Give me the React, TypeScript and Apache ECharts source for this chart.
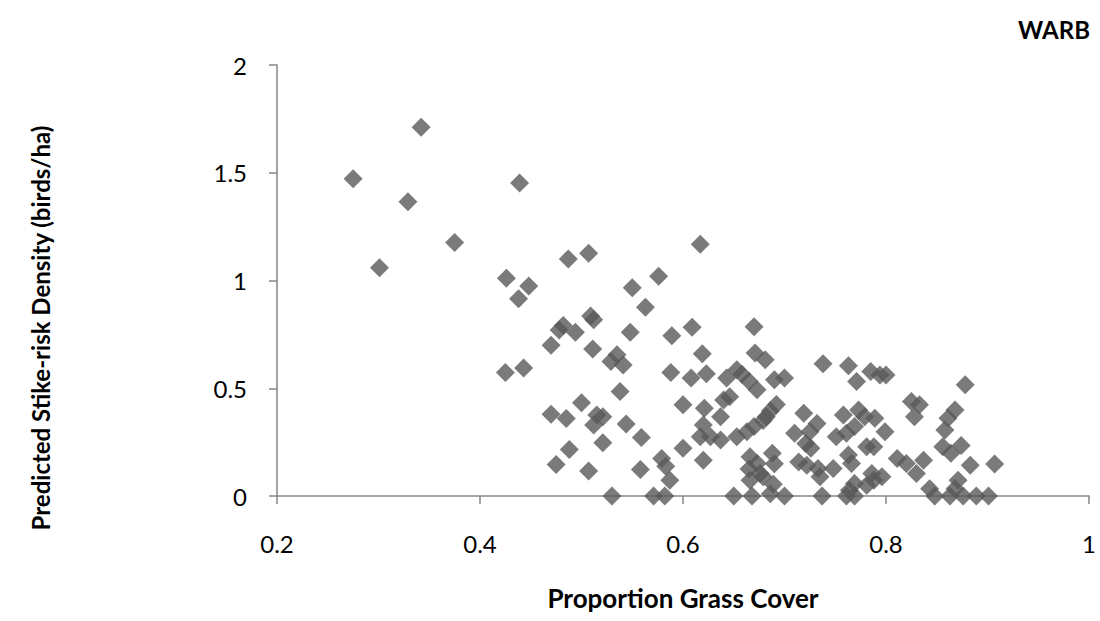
import React, { useEffect, useRef } from "react";
import * as echarts from "echarts";

const chartTitle = "WARB";
const xAxisName = "Proportion Grass Cover";
const yAxisName = "Predicted Stike-risk Density (birds/ha)";

const grassCover: number[] = [
  0.275, 0.301, 0.329, 0.342, 0.375, 0.426, 0.439, 0.448, 0.438, 0.487, 0.507, 0.425, 0.443,
  0.509, 0.512, 0.482, 0.494, 0.478, 0.47, 0.511, 0.47, 0.485, 0.5, 0.515, 0.521, 0.512, 0.521,
  0.488, 0.475, 0.507, 0.53,
  0.617, 0.576, 0.55, 0.563, 0.548, 0.589, 0.609, 0.67, 0.535, 0.529, 0.541, 0.619,
  0.671, 0.681, 0.588, 0.608, 0.623, 0.643, 0.653, 0.658, 0.665, 0.673, 0.69, 0.7,
  0.538, 0.544, 0.559, 0.579, 0.583, 0.558, 0.587, 0.571, 0.582, 0.65,
  0.6, 0.621, 0.64, 0.646, 0.637, 0.6, 0.62,
  0.686, 0.692, 0.62, 0.617, 0.627, 0.637, 0.653, 0.663, 0.67, 0.679, 0.682,
  0.666, 0.673, 0.665, 0.676, 0.688, 0.69, 0.666, 0.679, 0.689, 0.668, 0.686, 0.7,
  0.738, 0.763, 0.771, 0.785, 0.794, 0.8, 0.825, 0.719, 0.732, 0.725, 0.71, 0.721, 0.726,
  0.758, 0.773, 0.779, 0.789, 0.751, 0.761, 0.769, 0.799, 0.781, 0.788, 0.763, 0.766,
  0.714, 0.722, 0.733, 0.748, 0.735, 0.786, 0.788, 0.781, 0.769, 0.764, 0.811, 0.82,
  0.737, 0.761, 0.769,
  0.878, 0.833, 0.828, 0.868, 0.861, 0.858, 0.856, 0.864, 0.874, 0.837, 0.83, 0.883,
  0.907, 0.871, 0.843, 0.848, 0.863, 0.876, 0.889, 0.901, 0.868, 0.796,
];

const strikeDensity: number[] = [
  1.472, 1.059, 1.366, 1.711, 1.176, 1.011, 1.452, 0.974, 0.915, 1.1, 1.126, 0.573, 0.594,
  0.835, 0.818, 0.791, 0.76, 0.77, 0.699, 0.682, 0.379, 0.36, 0.433, 0.376, 0.368, 0.33, 0.247,
  0.216, 0.146, 0.116, 0.0,
  1.168, 1.02, 0.966, 0.876, 0.76, 0.744, 0.783, 0.785, 0.656, 0.624, 0.608, 0.66,
  0.663, 0.632, 0.573, 0.547, 0.567, 0.548, 0.586, 0.565, 0.532, 0.493, 0.539, 0.547,
  0.485, 0.334, 0.272, 0.174, 0.138, 0.123, 0.073, 0.0, 0.0, 0.0,
  0.423, 0.407, 0.446, 0.461, 0.368, 0.221, 0.166,
  0.395, 0.425, 0.329, 0.275, 0.275, 0.26, 0.275, 0.298, 0.322, 0.35, 0.368,
  0.182, 0.151, 0.125, 0.104, 0.198, 0.15, 0.073, 0.089, 0.055, 0.0, 0.01, 0.0,
  0.614, 0.604, 0.531, 0.578, 0.562, 0.562, 0.438, 0.384, 0.337, 0.298, 0.291, 0.244, 0.221,
  0.376, 0.399, 0.368, 0.361, 0.275, 0.291, 0.322, 0.298, 0.228, 0.228, 0.19, 0.151,
  0.158, 0.143, 0.128, 0.128, 0.089, 0.104, 0.073, 0.05, 0.058, 0.027, 0.174, 0.151,
  0.0, 0.0, 0.0,
  0.516, 0.423, 0.368, 0.399, 0.361, 0.306, 0.228, 0.198, 0.234, 0.166, 0.104, 0.143,
  0.148, 0.073, 0.034, 0.0, 0.0, 0.0, 0.0, 0.0, 0.034, 0.089,
];

const xTicks = [0.2, 0.4, 0.6, 0.8, 1];
const yTicks = [0, 0.5, 1, 1.5, 2];

const FONT = "Lato, 'Open Sans', sans-serif";

export default function App() {
  const ref = useRef<HTMLDivElement>(null);
  useEffect(() => {
    if (!ref.current) return;
    const chart = echarts.init(ref.current, null, { renderer: "svg" });
    const points = grassCover.map((x, i) => [x, strikeDensity[i]]);
    const axisColor = "#868686";
    chart.setOption({
      animation: false,
      backgroundColor: "#ffffff",
      grid: { left: 277, top: 65, right: 11, bottom: 125 },
      xAxis: {
        type: "value",
        min: xTicks[0],
        max: xTicks[xTicks.length - 1],
        interval: 0.2,
        axisLine: { show: true, onZero: false, lineStyle: { color: axisColor, width: 1.5 } },
        axisTick: { show: true, length: 8, lineStyle: { color: axisColor, width: 1.5 } },
        splitLine: { show: false },
        axisLabel: {
          margin: 35,
          color: "#000",
          fontSize: 24,
          fontFamily: FONT,
          formatter: (v: number) => String(+v.toFixed(1)),
        },
      },
      yAxis: {
        type: "value",
        min: yTicks[0],
        max: yTicks[yTicks.length - 1],
        interval: 0.5,
        axisLine: { show: true, lineStyle: { color: axisColor, width: 1.5 } },
        axisTick: { show: true, length: 8, lineStyle: { color: axisColor, width: 1.5 } },
        splitLine: { show: false },
        axisLabel: {
          margin: 30,
          color: "#000",
          fontSize: 24,
          fontFamily: FONT,
          formatter: (v: number) => String(+v.toFixed(1)),
        },
      },
      graphic: [
        {
          type: "text",
          right: 10,
          top: 17,
          style: { text: chartTitle, font: `bold 24px ${FONT}`, fill: "#000" },
        },
        {
          type: "text",
          x: 683,
          y: 598,
          style: {
            text: xAxisName,
            font: `bold 26px ${FONT}`,
            fill: "#000",
            textAlign: "center",
            textVerticalAlign: "middle",
          },
        },
        {
          type: "text",
          x: 40,
          y: 328,
          rotation: Math.PI / 2,
          style: {
            text: yAxisName,
            font: `bold 24px ${FONT}`,
            fill: "#000",
            textAlign: "center",
            textVerticalAlign: "middle",
          },
        },
      ],
      series: [
        {
          type: "scatter",
          data: points,
          symbol: "diamond",
          symbolSize: 19,
          itemStyle: { color: "#595959" },
        },
      ],
    });
    return () => chart.dispose();
  }, []);
  return (
    <div
      ref={ref}
      style={{ position: "fixed", left: 0, top: 0, width: 1100, height: 621, background: "#fff" }}
    />
  );
}
